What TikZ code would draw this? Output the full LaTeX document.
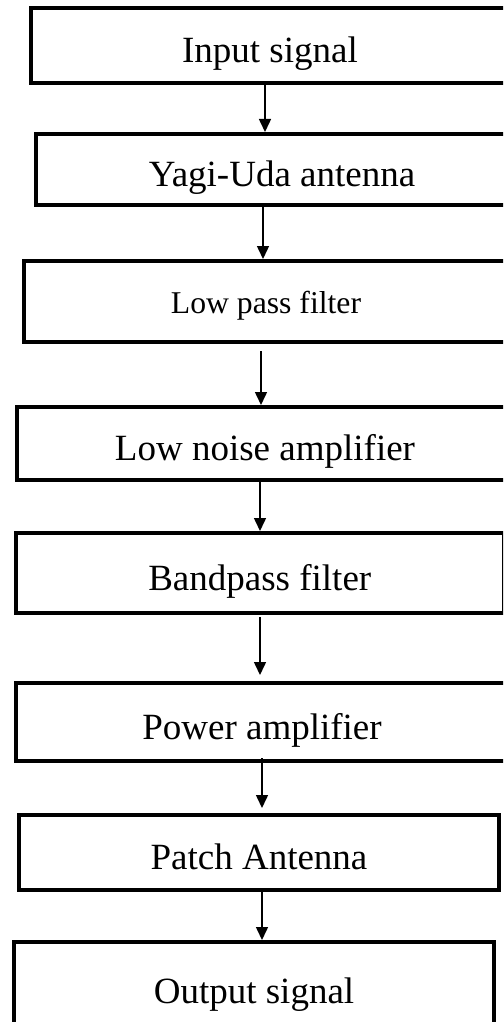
\documentclass[tikz,border=0pt]{standalone}
\usepackage{fontspec}
\setmainfont{Liberation Serif}
\usetikzlibrary{arrows.meta}

\begin{document}
\begin{tikzpicture}[x=1pt, y=-1pt,
    blk/.style={draw, line width=4pt, rectangle, inner sep=0pt,
      font=\fontsize{37}{40}\selectfont, text height=34pt, text depth=0pt},
    flow/.style={-{Triangle[width=12pt,length=13pt]}, line width=1.5pt}]
  \useasboundingbox (0,0) rectangle (503,1022);
  \clip (0,0) rectangle (503,1022);
  % --- blocks, top to bottom ---
  \node[blk, minimum width=478pt, minimum height=75pt] (insig) at (270,45.5) {Input signal};
  \node[blk, minimum width=492pt, minimum height=71pt] (yagi) at (282,169.5) {Yagi-Uda antenna};
  \node[blk, minimum width=485pt, minimum height=81pt, font=\fontsize{31.7}{34}\selectfont,
    text height=23pt] (lpf) at (266,301.5) {Low pass filter\hspace{32pt}};
  \node[blk, minimum width=496pt, minimum height=73pt] (lna) at (265,443.5) {Low noise amplifier};
  \node[blk, minimum width=488.5pt, minimum height=80pt] (bpf) at (259.75,573) {Bandpass filter};
  \node[blk, minimum width=492pt, minimum height=78pt] (pa) at (262,722) {Power amplifier};
  \node[blk, minimum width=480pt, minimum height=75pt] (patch) at (259,852.5) {Patch Antenna};
  \node[blk, minimum width=480pt, minimum height=88pt] (outsig) at (254,986) {Output signal};
  % --- arrows between blocks ---
  \foreach \a/\b/\x/\s/\e in {insig/yagi/265/0/0, yagi/lpf/263/0/0, lpf/lna/261/7/0,
      lna/bpf/260/0/0, bpf/pa/260/2/6, pa/patch/262/-5/5, patch/outsig/262/0/0}{
    \coordinate (ax) at (\x,0);
    \draw[flow, shorten <=\s pt, shorten >=\e pt] (\a.south -| ax) -- (\b.north -| ax);
  }
\end{tikzpicture}
\end{document}
